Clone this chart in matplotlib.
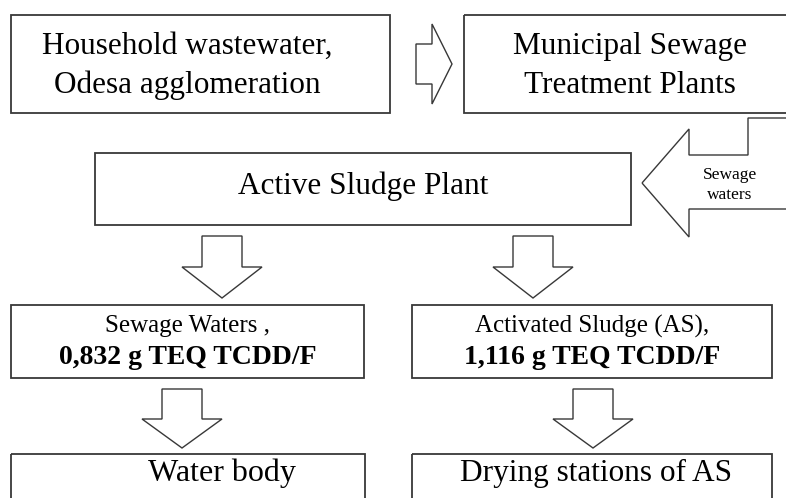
import matplotlib.pyplot as plt
from matplotlib.patches import Rectangle, Polygon

plt.rcParams['font.family'] = ['Liberation Serif', 'DejaVu Serif']

# Box texts
TOP_LABELS = ["Household wastewater,\nOdesa agglomeration", "Municipal Sewage\nTreatment Plants"]
MID_LABEL = "Active Sludge Plant"
INFLOW_LABEL = "Sewage\nwaters"
OUT_NAMES = ["Sewage Waters ,", "Activated Sludge (AS),"]
OUT_AMOUNTS = ["0,832 g TEQ TCDD/F", "1,116 g TEQ TCDD/F"]
SINK_LABELS = ["Water body", "Drying stations of AS"]

# Layout (pixels, y downwards): x0, y0, x1, y1
TOP_BOXES = [(11, 15, 390, 113), (464, 15, 800, 113)]
MID_BOX = (95, 153, 631, 225)
OUT_BOXES = [(11, 305, 364, 378), (412, 305, 772, 378)]
SINK_BOXES = [(11, 454, 365, 520), (412, 454, 772, 520)]

EDGE = '#383838'

fig = plt.figure(figsize=(7.86, 4.98), dpi=100)
ax = fig.add_axes([0, 0, 1, 1])
ax.set_xlim(0, 786)
ax.set_ylim(498, 0)
ax.axis('off')


def box(b, lw=1.3):
    x0, y0, x1, y1 = b
    ax.add_patch(Rectangle((x0, y0), x1 - x0, y1 - y0, fill=False, ec=EDGE, lw=lw))


def down_arrow(cx, top, base, tip, shaft=20, head=40):
    pts = [(cx - shaft, top), (cx + shaft, top), (cx + shaft, base), (cx + head, base),
           (cx, tip), (cx - head, base), (cx - shaft, base)]
    ax.add_patch(Polygon(pts, closed=True, fill=False, ec=EDGE, lw=1.0))


# boxes
for b in TOP_BOXES:
    box(b)
box(MID_BOX)
for b in OUT_BOXES:
    box(b)
for b in SINK_BOXES:
    box(b)

# right arrow between top boxes
ax.add_patch(Polygon([(416, 44), (432, 44), (432, 24), (452, 64), (432, 104), (432, 84), (416, 84)],
                     closed=True, fill=False, ec=EDGE, lw=1.0))

# big inflow arrow (cut at right edge)
ax.add_patch(Polygon([(642, 183), (689, 129), (689, 155), (748, 155), (748, 118), (800, 118),
                      (800, 209), (689, 209), (689, 237)],
                     closed=True, fill=False, ec=EDGE, lw=1.0))

# down arrows
down_arrow(222, 236, 267, 298)
down_arrow(533, 236, 267, 298)
down_arrow(182, 389, 419, 448)
down_arrow(593, 389, 419, 448)

# texts
big = 22.5
ax.text(187, 66, TOP_LABELS[0], ha='center', va='center', fontsize=big, linespacing=1.45)
ax.text(630, 66, TOP_LABELS[1], ha='center', va='center', fontsize=big, linespacing=1.45)
ax.text(363, 186, MID_LABEL, ha='center', va='center', fontsize=big)
ax.text(730, 185, INFLOW_LABEL, ha='center', va='center', fontsize=12.5, linespacing=1.3)

for i, b in enumerate(OUT_BOXES):
    cx = (b[0] + b[2]) / 2
    ax.text(cx, 326, OUT_NAMES[i], ha='center', va='center', fontsize=18)
    ax.text(cx, 357, OUT_AMOUNTS[i], ha='center', va='center', fontsize=20, fontweight='bold')

ax.text(222, 473, SINK_LABELS[0], ha='center', va='center', fontsize=23)
ax.text(596, 473, SINK_LABELS[1], ha='center', va='center', fontsize=22.5)

fig.savefig('out.png', dpi=100)
